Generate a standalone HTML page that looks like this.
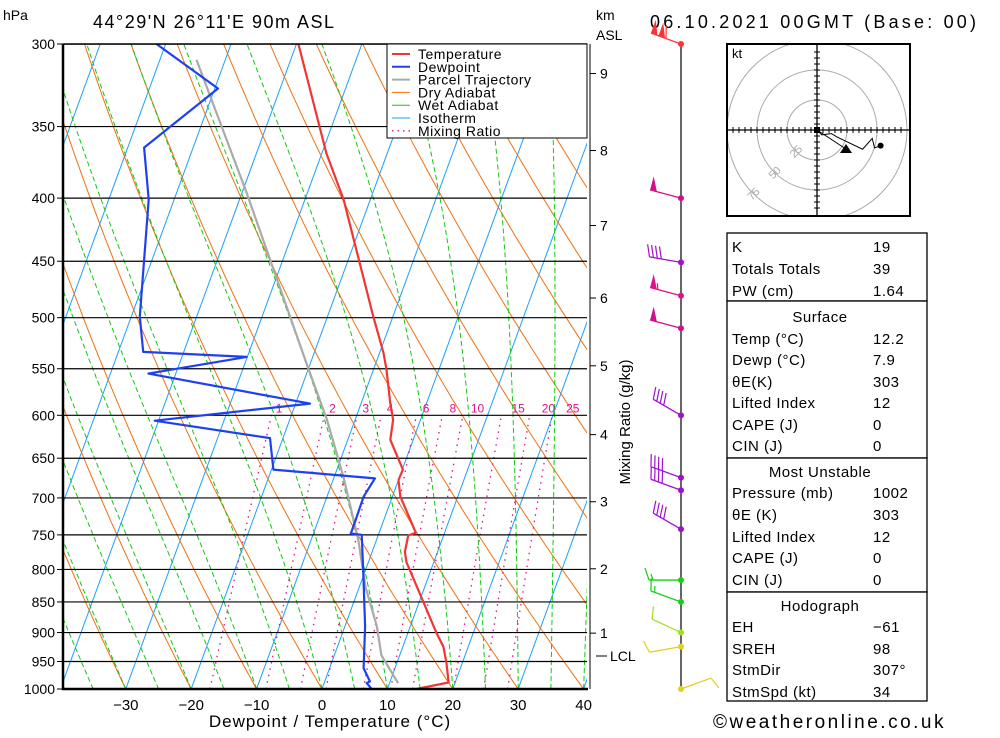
<!DOCTYPE html>
<html><head><meta charset="utf-8"><title>Skew-T</title>
<style>
html,body{margin:0;padding:0;background:#fff;}
body{width:1000px;height:733px;overflow:hidden;font-family:"Liberation Sans","DejaVu Sans",sans-serif;}
svg text{font-family:"Liberation Sans","DejaVu Sans",sans-serif;}
</style></head>
<body>
<svg id="chart" width="1000" height="733" viewBox="0 0 1000 733" xmlns="http://www.w3.org/2000/svg">
<defs><clipPath id="plotclip"><rect x="63" y="44" width="524" height="645"/></clipPath>
<clipPath id="hodoclip"><rect x="727" y="44" width="183" height="172"/></clipPath></defs>
<g id="grid" clip-path="url(#plotclip)"></g>
<g id="series" clip-path="url(#plotclip)"></g>
<g id="axes"></g>
<g id="winds"></g>
<g id="hodo"></g>
<g id="table"></g>
</svg>
<script>
// ---- data ----
const tempP = [1000,988,953,924,901,789,774,751,747,698,677,664,628,605,586,551,534,499,401,368,300];
const tempT = [14.4,19.0,17.6,16.2,14.4,5.8,5.0,4.6,5.6,1.2,0.0,0.1,-3.5,-4.2,-5.6,-8.0,-9.4,-13.0,-24.1,-29.3,-39.7];
const dewP = [1000,989,986,962,890,801,750,748,732,698,675,664,626,606,587,555,538,533,499,401,364,326,300];
const dewT = [7.6,6.5,6.9,5.2,3.1,-0.35,-2.55,-4.3,-4.3,-4.4,-3.7,-19.7,-22.0,-40.6,-17.8,-44.2,-30.1,-46.2,-48.7,-53.9,-57.5,-49.5,-61.4];
const parcelP = [989,939,890,826,757,673,605,550,396,309];
const parcelT = [11.3,7.2,4.9,0.9,-2.8,-8.6,-14.3,-20.0,-39.3,-54.4];
const pressureTicks = [300,350,400,450,500,550,600,650,700,750,800,850,900,950,1000];
const tempTicks = [-30,-20,-10,0,10,20,30,40];
const mixRatios = [1,2,3,4,6,8,10,15,20,25];
const kmLabels = ["9","8","7","6","5","4","3","2","1"];
const kmPressures = [317,366,421,482,547,622,705,799,901];
const windP = [300,400,451,480,510,600,674,690,742,816,850,900,924,1000];
const windDir = [290,285,280,285,285,300,290,290,300,270,290,295,260,70];
const windSpd = [110,50,40,55,50,40,40,40,40,15,15,10,10,10];
const windCol = ["#ff3333","#d0108c","#a010d0","#e0108c","#d0108c","#a010d0","#a010d0","#a010d0","#a010d0","#10d010","#10d010","#a0e020","#e0d020","#e0d020"];
const hodoU = [0,4,12,17,38,46,48,53];
const hodoV = [0,-4,-3,-6,-16,-7,-15,-13];
const tableRows = [
 ["K","19"],["Totals Totals","39"],["PW (cm)","1.64"],
 ["#Surface",""],["Temp (°C)","12.2"],["Dewp (°C)","7.9"],["θE(K)","303"],["Lifted Index","12"],["CAPE (J)","0"],["CIN (J)","0"],
 ["#Most Unstable",""],["Pressure (mb)","1002"],["θE (K)","303"],["Lifted Index","12"],["CAPE (J)","0"],["CIN (J)","0"],
 ["#Hodograph",""],["EH","-61"],["SREH","98"],["StmDir","307°"],["StmSpd (kt)","34"]
];
// ---- scales ----
const NS="http://www.w3.org/2000/svg";
const Y0=44,Y1=689,LN=Math.log(1000/300);
function yP(p){return Y0+645*Math.log(p/300)/LN;}
function xT(T,p){return 322+6.54*T+0.366*(689-yP(p));}
function mk(tag,attrs,parent){const e=document.createElementNS(NS,tag);for(const k in attrs)e.setAttribute(k,attrs[k]);parent.appendChild(e);return e;}
function txt(s,attrs,parent){const e=mk("text",attrs,parent);e.textContent=s;return e;}
const grid=document.getElementById("grid"),series=document.getElementById("series"),axes=document.getElementById("axes");
function poly(pts,attrs,parent){return mk("polyline",Object.assign({points:pts.map(q=>q[0].toFixed(1)+","+q[1].toFixed(1)).join(" "),fill:"none"},attrs),parent);}
// isotherms
for(let T=-120;T<=50;T+=10){
  const l=poly([[xT(T,1050),yP(1050)],[xT(T,280),yP(280)]],{stroke:"#1aa0ff","stroke-width":1},grid);
  
  
}
// dry adiabats
for(let T0=-80;T0<=160;T0+=10){
  const th=T0+273.15,pts=[];
  for(let p=1050;p>=280;p-=10){pts.push([xT(th*Math.pow(p/1000,0.2857)-273.15,p),yP(p)]);}
  const l=poly(pts,{stroke:"#f07010","stroke-width":1},grid);
  
  
}
// wet adiabats
function es(T){return 6.112*Math.exp(17.67*T/(T+243.5));}
for(let T0=-45;T0<=45;T0+=5){
  let T=T0;const pts=[[xT(T,1000),yP(1000)]];
  for(let p=1000;p>280;p-=5){
    const Tk=T+273.15,rs=0.622*es(T)/(p-es(T));
    const dTdp=(287*Tk+2.5e6*rs)/(p*(1004+2.5e6*2.5e6*rs*0.622/(287*Tk*Tk)));
    T-=dTdp*5;pts.push([xT(T,p-5),yP(p-5)]);
  }
  const l=poly(pts,{stroke:"#10c810","stroke-width":1,"stroke-dasharray":"5,3"},grid);
  
  
}
// mixing ratio
function tdW(w,p){const e=w*p/(622+w),a=Math.log(e/6.112);return 243.5*a/(17.67-a);}
mixRatios.forEach(w=>{
  const pts=[];for(let p=1000;p>=600;p-=20)pts.push([xT(tdW(w,p),p),yP(p)]);
  const l=poly(pts,{stroke:"#e0108c","stroke-width":1.3,"stroke-dasharray":"1.5,5"},grid);
  
  
  const t=txt(String(w),{x:xT(tdW(w,600),600)+4+w*0.4,y:yP(600)-3,"font-size":12,fill:"#e0108c","text-anchor":"start"},grid);
  
  
});
// pressure lines
pressureTicks.forEach(p=>{
  const l=mk("line",{x1:63,x2:587,y1:yP(p),y2:yP(p),stroke:"#000","stroke-width":1.2},grid);
  
  
});
// profiles
function prof(P,T,col,w,name){
  const l=poly(P.map((p,i)=>[xT(T[i],p),yP(p)]),{stroke:col,"stroke-width":w,"stroke-linejoin":"round"},series);
  
  
}
prof(parcelP,parcelT,"#aaaaaa",2.2,"parcel-trajectory");
prof(tempP,tempT,"#f03535",2.2,"temperature-line");
prof(dewP,dewT,"#2040f0",2.2,"dewpoint-line");
// axes
mk("line",{x1:63,x2:63,y1:44,y2:690,stroke:"#000","stroke-width":2.5},axes);
mk("line",{x1:63,x2:587,y1:44,y2:44,stroke:"#000","stroke-width":1.5},axes);
mk("line",{x1:62,x2:588,y1:689,y2:689,stroke:"#000","stroke-width":2.5},axes);
pressureTicks.forEach(p=>{
  const t=txt(String(p),{x:55,y:yP(p)+5,"font-size":14,"text-anchor":"end"},axes);
  
  
  mk("line",{x1:57,x2:63,y1:yP(p),y2:yP(p),stroke:"#000"},axes);
});
tempTicks.forEach(T=>{
  const t=txt(String(T).replace("-","−"),{x:xT(T,1000),y:710,"font-size":15,"text-anchor":"middle"},axes);
  
  
});
</script>
<script>
// static labels
(function(){
const axes=document.getElementById("axes");
const t1=txt("Dewpoint / Temperature (°C)",{x:330,y:727,"font-size":17,"text-anchor":"middle","letter-spacing":"1"},axes);

const t2=txt("hPa",{x:3,y:20,"font-size":14},axes);

const t3=txt("44°29'N  26°11'E  90m  ASL",{x:93,y:28,"font-size":18,"letter-spacing":"1.5","xml:space":"preserve"},axes);

const t4=txt("06.10.2021  00GMT (Base: 00)",{x:650,y:28,"font-size":18,"letter-spacing":"3.2","xml:space":"preserve"},axes);

const t5=txt("km",{x:596,y:20,"font-size":14},axes);

const t6=txt("ASL",{x:596,y:40,"font-size":14},axes);

mk("line",{x1:590,x2:590,y1:44,y2:689,stroke:"#000","stroke-width":1},axes);
kmLabels.forEach((k,i)=>{
  const y=yP(kmPressures[i]);
  mk("line",{x1:590,x2:596,y1:y,y2:y,stroke:"#000"},axes);
  const t=txt(k,{x:600,y:y+5,"font-size":14},axes);
  
});
mk("line",{x1:596,x2:607,y1:656,y2:656,stroke:"#000"},axes);
const tl=txt("LCL",{x:610,y:661,"font-size":14},axes);

const mr=txt("Mixing Ratio (g/kg)",{x:0,y:0,"font-size":15,"text-anchor":"middle",transform:"translate(630,422) rotate(-90)"},axes);

// legend
const lg=mk("g",{},axes);

mk("rect",{x:387,y:44,width:200,height:94,fill:"#fff",stroke:"#000","stroke-width":1},lg);
const items=[["Temperature","#f03535",2,""],["Dewpoint","#2040f0",2,""],["Parcel Trajectory","#aaaaaa",2,""],["Dry Adiabat","#f07010",1,""],["Wet Adiabat","#10c810",1,""],["Isotherm","#1aa0ff",1,""],["Mixing Ratio","#e0108c",1.3,"1.5,4"]];
items.forEach((it,i)=>{
  const y=54+i*12.8;
  const e=mk("g",{},lg);
  
  const a={x1:392,x2:410,y1:y,y2:y,stroke:it[1],"stroke-width":it[2]};if(it[3])a["stroke-dasharray"]=it[3];
  mk("line",a,e);
  txt(it[0],{x:418,y:y+5,"font-size":14,"letter-spacing":"0.5"},e);
});
// footer
const ft=txt("©weatheronline.co.uk",{x:713,y:728,"font-size":19,"letter-spacing":"2.5"},axes);

})();
// wind barbs
(function(){
const g=document.getElementById("winds");
mk("line",{x1:681,x2:681,y1:44,y2:689,stroke:"#000","stroke-width":1.2},g);
windP.forEach((p,i)=>{
  const y=yP(p),x=681,d=windDir[i]*Math.PI/180,col=windCol[i];
  const b=mk("g",{},g);
  
  
  const ux=Math.sin(d),uy=-Math.cos(d),L=32;
  const ex=x+ux*L,ey=y+uy*L;
  mk("line",{x1:x,y1:y,x2:ex,y2:ey,stroke:col,"stroke-width":1.3},b);
  mk("circle",{cx:x,cy:y,r:3,fill:col},b);
  const px=-uy,py=ux;let s=windSpd[i],pos=0;
  const step=4;
  while(s>=50){const ax=ex-ux*pos,ay=ey-uy*pos;
    mk("polygon",{points:`${ax},${ay} ${ax+px*14},${ay+py*14} ${ax-ux*7},${ay-uy*7}`,fill:col},b);pos+=8;s-=50;}
  while(s>=10){const ax=ex-ux*pos,ay=ey-uy*pos;
    mk("line",{x1:ax,y1:ay,x2:ax+px*12+ux*4,y2:ay+py*12+uy*4,stroke:col,"stroke-width":1.2},b);pos+=step;s-=10;}
  if(s>=5){const ax=ex-ux*pos,ay=ey-uy*pos;
    mk("line",{x1:ax,y1:ay,x2:ax+px*6+ux*2,y2:ay+py*6+uy*2,stroke:col,"stroke-width":1.2},b);}
});
})();
// hodograph
(function(){
const g=document.getElementById("hodo");
mk("rect",{x:727,y:44,width:183,height:172,fill:"#fff",stroke:"none"},g);
const cx=817,cy=130,sc=1.2;
const cg=mk("g",{"clip-path":"url(#hodoclip)"},g);
[25,50,75].forEach(r=>mk("circle",{cx:cx,cy:cy,r:r*sc,fill:"none",stroke:"#aaa","stroke-width":1},cg));
mk("line",{x1:728,x2:909,y1:cy,y2:cy,stroke:"#000","stroke-width":1.3},g);
mk("line",{x1:cx,x2:cx,y1:45,y2:215,stroke:"#000","stroke-width":1.3},g);
for(let k=-14;k<=14;k++){if(!k)continue;const d=k*6;
  if(cx+d>729&&cx+d<909)mk("line",{x1:cx+d,x2:cx+d,y1:cy-3,y2:cy+3,stroke:"#000"},g);
  if(cy+d>46&&cy+d<214)mk("line",{x1:cx-3,x2:cx+3,y1:cy+d,y2:cy+d,stroke:"#000"},g);}
[["25",25],["50",50],["75",75]].forEach(r=>{const a=Math.PI*0.75,x=cx+Math.cos(a)*r[1]*sc,y=cy+Math.sin(a)*r[1]*sc;
  txt(r[0],{x:x,y:y+4,"font-size":11,fill:"#aaa","text-anchor":"middle",transform:`rotate(-45 ${x} ${y})`},g);});
mk("rect",{x:727,y:44,width:183,height:172,fill:"none",stroke:"#000","stroke-width":2},g);
const kt=txt("kt",{x:732,y:58,"font-size":13},g);

const pl=poly(hodoU.map((u,i)=>[cx+u*sc,cy-hodoV[i]*sc]),{stroke:"#000","stroke-width":1},g);

mk("circle",{cx:cx+hodoU[hodoU.length-1]*sc,cy:cy-hodoV[hodoV.length-1]*sc,r:3,fill:"#000"},g);
mk("rect",{x:cx-3,y:cy-3,width:6,height:6,fill:"#000"},g);
mk("line",{x1:cx,y1:cy,x2:846,y2:149,stroke:"#000","stroke-width":1},g);
mk("polygon",{points:"846,144 852,153 840,153",fill:"#000"},g);
})();
// table
(function(){
const g=document.getElementById("table");
const bounds=[[233,301],[301,458],[458,592],[592,701]];
bounds.forEach(b=>mk("rect",{x:727,y:b[0],width:200,height:b[1]-b[0],fill:"#fff",stroke:"#000","stroke-width":1.3},g));
const ys=[246,268,290,316,338,359,381,402,424,445,471,492,514,536,557,579,605,626,648,669,691];
tableRows.forEach((r,i)=>{
  const y=ys[i]+6;
  if(r[0][0]==="#"){const t=txt(r[0].slice(1),{x:820,y:y,"font-size":15,"text-anchor":"middle","letter-spacing":"0.5"},g);
    return;}
  const a=txt(r[0],{x:732,y:y,"font-size":15,"letter-spacing":"0.5"},g);
  
  const b=txt(r[1].replace("-","−"),{x:873,y:y,"font-size":15,"letter-spacing":"0.5"},g);
  
});
})();
</script>
</body></html>
